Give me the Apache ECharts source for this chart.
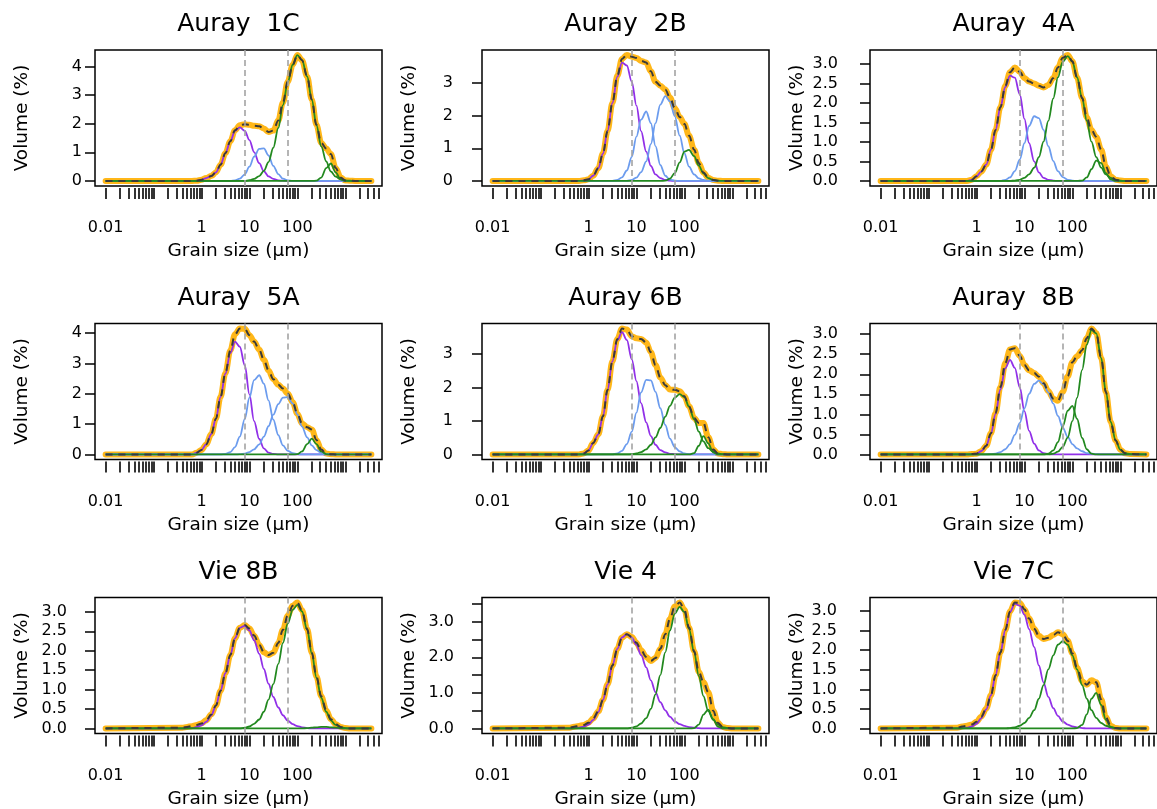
<!DOCTYPE html>
<html>
<head>
<meta charset="utf-8">
<script src="https://cdn.jsdelivr.net/npm/echarts@6/dist/echarts.min.js"></script>
<style>
html,body{margin:0;padding:0;background:#fff;}
#chart{width:1157px;height:809px;}
</style>
</head>
<body>
<div id="chart"></div>
<script>
// ---------------- DATA ----------------
// grain-size classes (µm) shared by every curve
const grainSizes = [0.01, 0.4, 0.5, 0.63, 0.8,
  1, 1.25, 1.6, 2, 2.5, 3.15, 4, 5, 6.3, 8,
  10, 12.5, 16, 20, 25, 31.5, 40, 50, 63, 80,
  100, 125, 160, 200, 250, 315, 400, 500, 630, 800,
  1000, 1250, 1600, 3500];

const classBounds = [8, 63];                 // µm, grey dashed lines
const xLabelValues = [0.01, 1, 10, 100];
const xLabelTexts = ['0.01', '1', '10', '100'];

const panelNames = ['Auray  1C', 'Auray  2B', 'Auray  4A', 'Auray  5A', 'Auray 6B', 'Auray  8B', 'Vie 8B', 'Vie 4', 'Vie 7C'];

// --- Auray 1C
const p1Total = [0,0,0,0,0.01, 0.04,0.10,0.17,0.30,0.57,0.97,1.39,1.77,1.95,1.98, 1.96,1.93,1.91,1.83,1.71,1.76,2.11,2.74,3.47,4.06, 4.40,4.22,3.65,2.84,1.96,1.33,1.13,0.94,0.45,0.12, 0.02,0.01,0,0];
const p1Purple = [0,0,0,0,0.01, 0.04,0.10,0.17,0.30,0.57,0.97,1.39,1.75,1.87,1.75, 1.43,1.01,0.62,0.34,0.16,0.07,0.02,0.01,0,0, 0,0,0,0,0,0,0,0,0,0, 0,0,0,0];
const p1Blue = [0,0,0,0,0, 0,0,0,0,0,0,0,0.02,0.08,0.23, 0.50,0.85,1.12,1.14,0.89,0.53,0.24,0.08,0.02,0, 0,0,0,0,0,0,0,0,0,0, 0,0,0,0];
const p1Green1 = [0,0,0,0,0, 0,0,0,0,0,0,0,0,0,0, 0.03,0.07,0.17,0.35,0.66,1.16,1.85,2.65,3.45,4.06, 4.40,4.22,3.65,2.84,1.95,1.21,0.68,0.33,0.15,0.06, 0.02,0.01,0,0];
const p1Green2 = [0,0,0,0,0, 0,0,0,0,0,0,0,0,0,0, 0,0,0,0,0,0,0,0,0,0, 0,0,0,0,0.01,0.12,0.45,0.61,0.30,0.06, 0,0,0,0];

// --- Auray 2B
const p2Total = [0,0,0,0,0.02, 0.05,0.16,0.39,0.84,1.53,2.39,3.23,3.74,3.86,3.81, 3.77,3.68,3.63,3.36,3.04,2.92,2.80,2.56,2.24,1.96, 1.75,1.39,0.96,0.55,0.26,0.10,0.03,0.01,0,0, 0,0,0,0];
const p2Purple = [0,0,0,0,0.02, 0.05,0.16,0.39,0.84,1.53,2.39,3.20,3.63,3.54,3.04, 2.31,1.53,0.90,0.46,0.20,0.09,0.03,0.01,0,0, 0,0,0,0,0,0,0,0,0,0, 0,0,0,0];
const p2Blue1 = [0,0,0,0,0, 0,0,0,0,0,0,0.03,0.11,0.32,0.74, 1.36,1.88,2.13,1.77,1.07,0.49,0.16,0.04,0.01,0, 0,0,0,0,0,0,0,0,0,0, 0,0,0,0];
const p2Blue2 = [0,0,0,0,0, 0,0,0,0,0,0,0,0,0,0.03, 0.10,0.27,0.60,1.13,1.77,2.34,2.60,2.44,1.99,1.39, 0.85,0.44,0.20,0.08,0.03,0.01,0,0,0,0, 0,0,0,0];
const p2Green = [0,0,0,0,0, 0,0,0,0,0,0,0,0,0,0, 0,0,0,0,0,0,0.01,0.07,0.24,0.57, 0.90,0.95,0.76,0.47,0.23,0.09,0.03,0.01,0,0, 0,0,0,0];

// --- Auray 4A
const p3Total = [0,0,0,0,0.03, 0.12,0.24,0.42,0.80,1.31,1.89,2.44,2.79,2.91,2.80, 2.64,2.55,2.50,2.44,2.40,2.46,2.64,2.91,3.16,3.23, 3.07,2.66,2.13,1.63,1.31,1.13,0.80,0.37,0.12,0.03, 0.01,0,0,0];
const p3Purple = [0,0,0,0,0.03, 0.12,0.24,0.42,0.80,1.31,1.89,2.41,2.70,2.65,2.22, 1.59,0.97,0.50,0.22,0.08,0.03,0.01,0,0,0, 0,0,0,0,0,0,0,0,0,0, 0,0,0,0];
const p3Blue = [0,0,0,0,0, 0,0,0,0,0,0,0.03,0.09,0.25,0.55, 0.97,1.41,1.66,1.61,1.31,0.89,0.51,0.25,0.10,0.03, 0.01,0,0,0,0,0,0,0,0,0, 0,0,0,0];
const p3Green1 = [0,0,0,0,0, 0,0,0,0,0,0,0,0,0.01,0.03, 0.08,0.17,0.34,0.61,1.01,1.54,2.12,2.66,3.06,3.20, 3.06,2.66,2.12,1.54,1.01,0.61,0.34,0.17,0.08,0.03, 0.01,0,0,0];
const p3Green2 = [0,0,0,0,0, 0,0,0,0,0,0,0,0,0,0, 0,0,0,0,0,0,0,0,0,0, 0,0,0.01,0.09,0.30,0.52,0.46,0.20,0.04,0, 0,0,0,0];

// --- Auray 5A
const p4Total = [0,0,0,0,0.06, 0.15,0.33,0.67,1.18,1.90,2.68,3.43,3.96,4.15,4.14, 3.93,3.72,3.45,3.12,2.77,2.48,2.30,2.17,2.01,1.72, 1.34,1.02,0.90,0.82,0.48,0.16,0.03,0.01,0,0, 0,0,0,0];
const p4Purple = [0,0,0,0,0.06, 0.15,0.33,0.67,1.18,1.90,2.66,3.35,3.72,3.55,2.94, 1.98,1.10,0.51,0.20,0.06,0.02,0,0,0,0, 0,0,0,0,0,0,0,0,0,0, 0,0,0,0];
const p4Blue1 = [0,0,0,0,0, 0,0,0,0,0,0.02,0.08,0.24,0.59,1.17, 1.87,2.45,2.61,2.33,1.78,1.15,0.64,0.30,0.12,0.04, 0.01,0,0,0,0,0,0,0,0,0, 0,0,0,0];
const p4Blue2 = [0,0,0,0,0, 0,0,0,0,0,0,0,0,0.01,0.03, 0.08,0.17,0.33,0.59,0.93,1.31,1.66,1.87,1.89,1.68, 1.32,0.92,0.56,0.30,0.14,0.06,0.02,0.01,0,0, 0,0,0,0];
const p4Green = [0,0,0,0,0, 0,0,0,0,0,0,0,0,0,0, 0,0,0,0,0,0,0,0,0,0, 0.01,0.10,0.34,0.52,0.34,0.10,0.01,0,0,0, 0,0,0,0];

// --- Auray 6B
const p5Total = [0,0,0,0,0.03, 0.12,0.34,0.60,1.14,1.93,2.78,3.45,3.76,3.73,3.53, 3.47,3.45,3.34,3.05,2.67,2.30,2.07,1.94,1.93,1.89, 1.74,1.44,1.09,0.94,0.94,0.52,0.15,0.03,0.01,0, 0,0,0,0];
const p5Purple = [0,0,0,0,0.03, 0.12,0.34,0.60,1.14,1.93,2.78,3.42,3.65,3.42,2.84, 2.19,1.53,0.96,0.55,0.29,0.13,0.06,0.02,0.01,0, 0,0,0,0,0,0,0,0,0,0, 0,0,0,0];
const p5Blue = [0,0,0,0,0, 0,0,0,0,0,0,0.03,0.11,0.31,0.68, 1.25,1.85,2.23,2.21,1.87,1.38,0.88,0.47,0.22,0.09, 0.03,0.01,0,0,0,0,0,0,0,0, 0,0,0,0];
const p5Green1 = [0,0,0,0,0, 0,0,0,0,0,0,0,0,0,0.01, 0.03,0.07,0.15,0.29,0.51,0.79,1.13,1.45,1.70,1.80, 1.71,1.43,1.05,0.68,0.39,0.19,0.09,0.03,0.01,0, 0,0,0,0];
const p5Green2 = [0,0,0,0,0, 0,0,0,0,0,0,0,0,0,0, 0,0,0,0,0,0,0,0,0,0, 0,0,0.04,0.26,0.55,0.33,0.06,0,0,0, 0,0,0,0];

// --- Auray 8B
const p6Total = [0,0,0,0,0.01, 0.02,0.08,0.22,0.53,1.03,1.68,2.28,2.62,2.65,2.46, 2.23,2.10,2.03,1.94,1.78,1.58,1.39,1.34,1.56,1.95, 2.30,2.45,2.60,2.90,3.14,3.03,2.40,1.56,0.81,0.35, 0.12,0.03,0.01,0];
const p6Purple = [0,0,0,0,0.01, 0.02,0.08,0.22,0.52,1.01,1.62,2.15,2.36,2.16,1.67, 1.08,0.59,0.27,0.10,0.03,0.01,0,0,0,0, 0,0,0,0,0,0,0,0,0,0, 0,0,0,0];
const p6Blue = [0,0,0,0,0, 0,0,0,0.01,0.02,0.06,0.13,0.26,0.49,0.79, 1.15,1.51,1.76,1.84,1.75,1.55,1.27,0.96,0.67,0.44, 0.26,0.15,0.08,0.03,0.02,0.01,0,0,0,0, 0,0,0,0];
const p6Green1 = [0,0,0,0,0, 0,0,0,0,0,0,0,0,0,0, 0,0,0,0,0,0.02,0.10,0.31,0.70,1.09, 1.21,0.89,0.41,0.13,0.02,0,0,0,0,0, 0,0,0,0];
const p6Green2 = [0,0,0,0,0, 0,0,0,0,0,0,0,0,0,0, 0,0,0,0,0,0,0.02,0.07,0.19,0.42, 0.83,1.41,2.11,2.74,3.10,3.02,2.40,1.56,0.81,0.35, 0.12,0.03,0.01,0];

// --- Vie 8B
const p7Total = [0,0.02,0.04,0.06,0.09, 0.13,0.21,0.36,0.59,0.97,1.42,1.89,2.32,2.59,2.66, 2.57,2.39,2.15,1.96,1.89,1.95,2.20,2.54,2.90,3.16, 3.24,3.04,2.56,1.95,1.34,0.83,0.47,0.24,0.11,0.04, 0.01,0,0,0];
const p7Purple = [0,0,0.01,0.01,0.04, 0.08,0.17,0.34,0.59,0.97,1.42,1.89,2.32,2.59,2.64, 2.52,2.27,1.92,1.53,1.15,0.81,0.54,0.34,0.20,0.11, 0.06,0.03,0.01,0,0,0,0,0,0,0, 0,0,0,0];
const p7Green1 = [0,0,0,0,0, 0,0,0,0,0,0,0,0,0,0.02, 0.05,0.12,0.23,0.43,0.74,1.14,1.66,2.20,2.70,3.05, 3.18,3.01,2.54,1.93,1.31,0.79,0.43,0.21,0.09,0.03, 0.01,0,0,0];
const p7Green2 = [0,0,0,0,0, 0,0,0,0,0,0,0,0,0,0, 0,0,0,0,0,0,0,0,0,0, 0,0,0.01,0.02,0.03,0.04,0.04,0.03,0.02,0.01, 0,0,0,0];

// --- Vie 4
const p8Total = [0,0.02,0.05,0.07,0.10, 0.16,0.28,0.48,0.80,1.24,1.77,2.24,2.56,2.65,2.57, 2.41,2.20,2.01,1.90,1.98,2.24,2.65,3.08,3.43,3.54, 3.34,2.84,2.17,1.59,1.30,1.02,0.50,0.16,0.04,0.01, 0,0,0,0];
const p8Purple = [0,0,0.01,0.02,0.05, 0.11,0.24,0.46,0.80,1.24,1.77,2.24,2.56,2.65,2.55, 2.35,2.06,1.72,1.35,1.02,0.74,0.51,0.33,0.20,0.12, 0.07,0.04,0.02,0.01,0,0,0,0,0,0, 0,0,0,0];
const p8Green1 = [0,0,0,0,0, 0,0,0,0,0,0,0,0,0,0.02, 0.06,0.14,0.29,0.55,0.96,1.50,2.14,2.75,3.23,3.42, 3.27,2.80,2.14,1.47,0.91,0.49,0.24,0.11,0.04,0.01, 0,0,0,0];
const p8Green2 = [0,0,0,0,0, 0,0,0,0,0,0,0,0,0,0, 0,0,0,0,0,0,0,0,0,0, 0,0,0.01,0.11,0.39,0.53,0.26,0.05,0,0, 0,0,0,0];

// --- Vie 7C
const p9Total = [0,0.02,0.05,0.07,0.10, 0.17,0.30,0.51,0.85,1.36,1.94,2.52,2.99,3.22,3.21, 3.05,2.81,2.55,2.37,2.29,2.32,2.39,2.46,2.41,2.24, 1.92,1.55,1.21,1.12,1.23,1.18,0.74,0.29,0.07,0.01, 0,0,0,0];
const p9Purple = [0,0,0.01,0.02,0.05, 0.12,0.26,0.49,0.85,1.36,1.94,2.52,2.98,3.19,3.14, 2.91,2.54,2.08,1.61,1.18,0.81,0.52,0.32,0.18,0.10, 0.05,0.03,0.01,0,0,0,0,0,0,0, 0,0,0,0];
const p9Green1 = [0,0,0,0,0, 0,0,0,0,0,0,0,0.01,0.03,0.07, 0.14,0.27,0.47,0.76,1.11,1.51,1.87,2.14,2.23,2.14, 1.87,1.51,1.11,0.76,0.47,0.27,0.14,0.07,0.03,0.01, 0,0,0,0];
const p9Green2 = [0,0,0,0,0, 0,0,0,0,0,0,0,0,0,0, 0,0,0,0,0,0,0,0,0,0, 0,0.01,0.09,0.36,0.76,0.91,0.60,0.22,0.04,0, 0,0,0,0];

// y-axis tick values / labelled values
const yTicksInt4 = [0, 1, 2, 3, 4];
const yTicksInt3 = [0, 1, 2, 3];
const yTicksHalf3 = [0, 0.5, 1, 1.5, 2, 2.5, 3];
const yTicksHalf35 = [0, 0.5, 1, 1.5, 2, 2.5, 3, 3.5];

// ---------------- STYLE / LAYOUT ----------------
const COL = {purple: '#9130E8', blue: '#6C9CEE', green: '#22891F', total: '#FFB719', fit: '#3A3A3A', bound: '#A3A3A3'};
const boxLeft = [95, 482, 870];
const boxTop = [50, 323.5, 597.5];
const boxW = 287, boxH = 136;
const yLabelGap = [13, 29, 32, 13, 29, 32, 28, 28, 33];
const FONT = 'DejaVu Sans';

const panels = [
  {total: p1Total, comps: [[p1Purple,'purple'],[p1Blue,'blue'],[p1Green1,'green'],[p1Green2,'green']], yTicks: yTicksInt4, yLabels: yTicksInt4, dec: 0},
  {total: p2Total, comps: [[p2Purple,'purple'],[p2Blue1,'blue'],[p2Blue2,'blue'],[p2Green,'green']], yTicks: yTicksInt3, yLabels: yTicksInt3, dec: 0},
  {total: p3Total, comps: [[p3Purple,'purple'],[p3Blue,'blue'],[p3Green1,'green'],[p3Green2,'green']], yTicks: yTicksHalf3, yLabels: yTicksHalf3, dec: 1},
  {total: p4Total, comps: [[p4Purple,'purple'],[p4Blue1,'blue'],[p4Blue2,'blue'],[p4Green,'green']], yTicks: yTicksInt4, yLabels: yTicksInt4, dec: 0},
  {total: p5Total, comps: [[p5Purple,'purple'],[p5Blue,'blue'],[p5Green1,'green'],[p5Green2,'green']], yTicks: yTicksInt3, yLabels: yTicksInt3, dec: 0},
  {total: p6Total, comps: [[p6Purple,'purple'],[p6Blue,'blue'],[p6Green1,'green'],[p6Green2,'green']], yTicks: yTicksHalf3, yLabels: yTicksHalf3, dec: 1},
  {total: p7Total, comps: [[p7Purple,'purple'],[p7Green1,'green'],[p7Green2,'green']], yTicks: yTicksHalf3, yLabels: yTicksHalf3, dec: 1},
  {total: p8Total, comps: [[p8Purple,'purple'],[p8Green1,'green'],[p8Green2,'green']], yTicks: yTicksHalf35, yLabels: yTicksInt3, dec: 1},
  {total: p9Total, comps: [[p9Purple,'purple'],[p9Green1,'green'],[p9Green2,'green']], yTicks: yTicksHalf3, yLabels: yTicksHalf3, dec: 1}
];

const lg = Math.log10;
const xLogMin = lg(grainSizes[0]);
const xLogMax = lg(grainSizes[grainSizes.length - 1]);
const xPad = 0.04 * (xLogMax - xLogMin);
const xMin = xLogMin - xPad, xMax = xLogMax + xPad;
const xTickLogs = [];
for (let e = -2; e <= 3; e++) {
  for (let m = 1; m <= 9; m++) {
    const v = lg(m * Math.pow(10, e));
    if (v >= xMin && v <= xMax) xTickLogs.push(v);
  }
}
const xLabelLogs = xLabelValues.map(lg);
function xLabel(v) {
  for (let i = 0; i < xLabelLogs.length; i++) {
    if (Math.abs(xLabelLogs[i] - v) < 1e-6) return xLabelTexts[i];
  }
  return '';
}
function toPoints(arr) { return grainSizes.map((s, j) => [lg(s), arr[j]]); }

const option = {animation: false, backgroundColor: '#fff', title: [], grid: [], xAxis: [], yAxis: [], series: []};
const txt = {color: '#000', fontFamily: FONT};

panels.forEach((p, i) => {
  const r = Math.floor(i / 3), c = i % 3;
  option.title.push({
    text: panelNames[i], left: boxLeft[c] + boxW / 2, top: boxTop[r] - 38, textAlign: 'center', padding: 0,
    textStyle: Object.assign({fontSize: 25, fontWeight: 'normal'}, txt)
  });
  option.grid.push({left: boxLeft[c], top: boxTop[r], width: boxW, height: boxH, show: true,
    borderColor: '#000', borderWidth: 1.5, backgroundColor: 'rgba(0,0,0,0)', containLabel: false, outerBoundsMode: 'none'});
  option.xAxis.push({
    type: 'value', gridIndex: i, min: xMin, max: xMax, offset: 2, position: 'bottom',
    axisLine: {show: false, onZero: false}, splitLine: {show: false},
    axisTick: {show: true, length: 11, customValues: xTickLogs, lineStyle: {color: '#000', width: 1.6}},
    axisLabel: Object.assign({customValues: xLabelLogs, formatter: xLabel, margin: 32, fontSize: 16}, txt),
    name: 'Grain size (µm)', nameLocation: 'middle', nameGap: 54,
    nameTextStyle: Object.assign({fontSize: 18.5}, txt)
  });
  const M = Math.max.apply(null, p.total);
  option.yAxis.push({
    type: 'value', gridIndex: i, min: -0.04 * M, max: 1.04 * M, position: 'left',
    axisLine: {show: false, onZero: false}, splitLine: {show: false},
    axisTick: {show: true, length: 10, customValues: p.yTicks, lineStyle: {color: '#000', width: 1.5}},
    axisLabel: Object.assign({customValues: p.yLabels, formatter: v => v.toFixed(p.dec), margin: yLabelGap[i], fontSize: 16}, txt),
    name: 'Volume (%)', nameLocation: 'middle', nameGap: 63, nameRotate: 90,
    nameTextStyle: Object.assign({fontSize: 18.5}, txt)
  });
  // measured distribution (thick orange)
  option.series.push({
    type: 'line', xAxisIndex: i, yAxisIndex: i, data: toPoints(p.total), showSymbol: false,
    smooth: 0.35, smoothMonotone: 'x', z: 1,
    lineStyle: {color: COL.total, width: 6, cap: 'round', join: 'round'},
    markLine: {silent: true, symbol: ['none', 'none'], label: {show: false}, z: 6,
      lineStyle: {color: COL.bound, type: [6, 4], width: 1.6},
      data: classBounds.map(b => ({xAxis: lg(b)}))}
  });
  // fitted components
  p.comps.forEach(([arr, kind]) => {
    option.series.push({
      type: 'line', xAxisIndex: i, yAxisIndex: i, data: toPoints(arr), showSymbol: false,
      smooth: 0.35, smoothMonotone: 'x', z: 2,
      lineStyle: {color: COL[kind], width: 1.8}
    });
  });
  // fitted sum (black dashed)
  option.series.push({
    type: 'line', xAxisIndex: i, yAxisIndex: i, data: toPoints(p.total), showSymbol: false,
    smooth: 0.35, smoothMonotone: 'x', z: 3,
    lineStyle: {color: COL.fit, width: 2, type: [7, 6]}
  });
});

const chart = echarts.init(document.getElementById('chart'), null, {renderer: 'canvas'});
chart.setOption(option);
</script>
</body>
</html>
